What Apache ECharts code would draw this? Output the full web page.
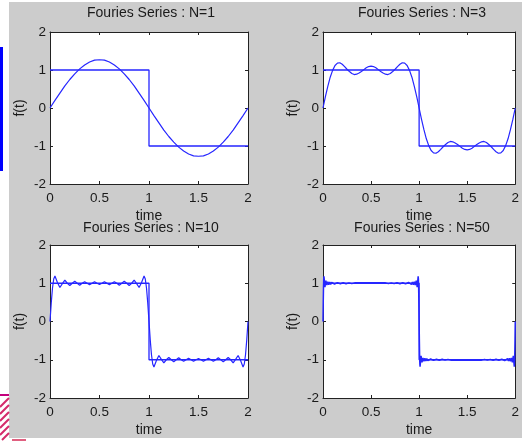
<!DOCTYPE html>
<html>
<head>
<meta charset="utf-8">
<script src="https://cdn.jsdelivr.net/npm/echarts@6/dist/echarts.min.js"></script>
<style>html,body{margin:0;padding:0;background:#fff;}#c{width:522px;height:441px;}</style>
</head>
<body>
<div id="c"></div>
<script>
// ---- data ----
const panelTitles = ['Fouries Series : N=1', 'Fouries Series : N=3', 'Fouries Series : N=10', 'Fouries Series : N=50'];
const xTicks = [0, 0.5, 1, 1.5, 2];
const yTicks = [-2, -1, 0, 1, 2];
const squareWave = [[0, 1], [1, 1], [1, -1], [2, -1]];

const fourierN1 = [[0,0],[0.05,0.20],[0.1,0.39],[0.15,0.58],[0.2,0.75],[0.25,0.90],[0.3,1.03],[0.35,1.13],[0.4,1.21],[0.45,1.26],[0.5,1.27],
[0.55,1.26],[0.6,1.21],[0.65,1.13],[0.7,1.03],[0.75,0.90],[0.8,0.75],[0.85,0.58],[0.9,0.39],[0.95,0.20],[1,0],
[1.05,-0.20],[1.1,-0.39],[1.15,-0.58],[1.2,-0.75],[1.25,-0.90],[1.3,-1.03],[1.35,-1.13],[1.4,-1.21],[1.45,-1.26],[1.5,-1.27],
[1.55,-1.26],[1.6,-1.21],[1.65,-1.13],[1.7,-1.03],[1.75,-0.90],[1.8,-0.75],[1.85,-0.58],[1.9,-0.39],[1.95,-0.20],[2,0]];

const fourierN3 = [[0,0],[0.025,0.30],[0.05,0.57],[0.075,0.81],[0.1,0.99],[0.125,1.12],[0.15,1.18],[0.175,1.19],[0.2,1.15],[0.225,1.09],[0.25,1.02],
[0.275,0.96],[0.3,0.91],[0.325,0.88],[0.35,0.89],[0.375,0.92],[0.4,0.96],[0.425,1.01],[0.45,1.06],[0.475,1.09],[0.5,1.10],
[0.525,1.09],[0.55,1.06],[0.575,1.01],[0.6,0.96],[0.625,0.92],[0.65,0.89],[0.675,0.88],[0.7,0.91],[0.725,0.96],[0.75,1.02],
[0.775,1.09],[0.8,1.15],[0.825,1.19],[0.85,1.18],[0.875,1.12],[0.9,0.99],[0.925,0.81],[0.95,0.57],[0.975,0.30],[1,0],
[1.025,-0.30],[1.05,-0.57],[1.075,-0.81],[1.1,-0.99],[1.125,-1.12],[1.15,-1.18],[1.175,-1.19],[1.2,-1.15],[1.225,-1.09],[1.25,-1.02],
[1.275,-0.96],[1.3,-0.91],[1.325,-0.88],[1.35,-0.89],[1.375,-0.92],[1.4,-0.96],[1.425,-1.01],[1.45,-1.06],[1.475,-1.09],[1.5,-1.10],
[1.525,-1.09],[1.55,-1.06],[1.575,-1.01],[1.6,-0.96],[1.625,-0.92],[1.65,-0.89],[1.675,-0.88],[1.7,-0.91],[1.725,-0.96],[1.75,-1.02],
[1.775,-1.09],[1.8,-1.15],[1.825,-1.19],[1.85,-1.18],[1.875,-1.12],[1.9,-0.99],[1.925,-0.81],[1.95,-0.57],[1.975,-0.30],[2,0]];

const fourierN10 = [[0,0],[0.0125,0.48],[0.025,0.87],[0.0375,1.11],[0.05,1.19],[0.075,1.02],[0.1,0.89],[0.125,0.99],[0.15,1.08],[0.175,1.00],
[0.2,0.94],[0.225,1.00],[0.25,1.05],[0.275,1.00],[0.3,0.95],[0.325,1.00],[0.35,1.04],[0.375,1.00],[0.4,0.96],[0.425,1.00],[0.45,1.04],[0.475,1.00],
[0.5,0.97],[0.525,1.00],[0.55,1.04],[0.575,1.00],[0.6,0.96],[0.625,1.00],[0.65,1.04],[0.675,1.00],[0.7,0.95],[0.725,1.00],[0.75,1.05],[0.775,1.00],
[0.8,0.94],[0.825,1.00],[0.85,1.08],[0.875,0.99],[0.9,0.89],[0.925,1.02],[0.95,1.19],[0.9625,1.11],[0.975,0.87],[0.9875,0.48],[1,0],
[1.0125,-0.48],[1.025,-0.87],[1.0375,-1.11],[1.05,-1.19],[1.075,-1.02],[1.1,-0.89],[1.125,-0.99],[1.15,-1.08],[1.175,-1.00],
[1.2,-0.94],[1.225,-1.00],[1.25,-1.05],[1.275,-1.00],[1.3,-0.95],[1.325,-1.00],[1.35,-1.04],[1.375,-1.00],[1.4,-0.96],[1.425,-1.00],[1.45,-1.04],[1.475,-1.00],
[1.5,-0.97],[1.525,-1.00],[1.55,-1.04],[1.575,-1.00],[1.6,-0.96],[1.625,-1.00],[1.65,-1.04],[1.675,-1.00],[1.7,-0.95],[1.725,-1.00],[1.75,-1.05],[1.775,-1.00],
[1.8,-0.94],[1.825,-1.00],[1.85,-1.08],[1.875,-0.99],[1.9,-0.89],[1.925,-1.02],[1.95,-1.19],[1.9625,-1.11],[1.975,-0.87],[1.9875,-0.48],[2,0]];

const fourierN50 = [[0,0],[0.0025,0.48],[0.005,0.87],[0.0075,1.11],[0.01,1.18],[0.02,0.90],[0.03,1.07],[0.04,0.95],[0.05,1.04],[0.06,0.96],
[0.07,1.03],[0.08,0.97],[0.09,1.024],[0.1,0.978],[0.11,1.021],[0.12,0.981],[0.13,1.018],[0.14,0.983],[0.15,1.016],[0.16,0.985],
[0.17,1.014],[0.18,0.986],[0.19,1.013],[0.2,0.987],[0.21,1.012],[0.22,0.988],[0.23,1.011],[0.24,0.989],[0.25,1.011],[0.26,0.99],
[0.27,1.01],[0.28,0.99],[0.29,1.01],[0.3,0.99],[0.31,1.01],[0.32,0.99],[0.33,1.01],[0.34,0.99],[0.35,1.01],
[0.65,1.01],[0.66,0.99],[0.67,1.01],[0.68,0.99],[0.69,1.01],[0.7,0.99],[0.71,1.01],[0.72,0.99],[0.73,1.01],[0.74,0.99],
[0.75,1.011],[0.76,0.989],[0.77,1.011],[0.78,0.988],[0.79,1.012],[0.8,0.987],[0.81,1.013],[0.82,0.986],[0.83,1.014],[0.84,0.985],
[0.85,1.016],[0.86,0.983],[0.87,1.018],[0.88,0.981],[0.89,1.021],[0.9,0.978],[0.91,1.024],[0.92,0.97],[0.93,1.03],[0.94,0.96],
[0.95,1.04],[0.96,0.95],[0.97,1.07],[0.98,0.90],[0.99,1.18],[0.9925,1.11],[0.995,0.87],[0.9975,0.48],[1,0],
[1.0025,-0.48],[1.005,-0.87],[1.0075,-1.11],[1.01,-1.18],[1.02,-0.90],[1.03,-1.07],[1.04,-0.95],[1.05,-1.04],[1.06,-0.96],
[1.07,-1.03],[1.08,-0.97],[1.09,-1.024],[1.1,-0.978],[1.11,-1.021],[1.12,-0.981],[1.13,-1.018],[1.14,-0.983],[1.15,-1.016],[1.16,-0.985],
[1.17,-1.014],[1.18,-0.986],[1.19,-1.013],[1.2,-0.987],[1.21,-1.012],[1.22,-0.988],[1.23,-1.011],[1.24,-0.989],[1.25,-1.011],[1.26,-0.99],
[1.27,-1.01],[1.28,-0.99],[1.29,-1.01],[1.3,-0.99],[1.31,-1.01],[1.32,-0.99],[1.33,-1.01],[1.34,-0.99],[1.35,-1.01],
[1.65,-1.01],[1.66,-0.99],[1.67,-1.01],[1.68,-0.99],[1.69,-1.01],[1.7,-0.99],[1.71,-1.01],[1.72,-0.99],[1.73,-1.01],[1.74,-0.99],
[1.75,-1.011],[1.76,-0.989],[1.77,-1.011],[1.78,-0.988],[1.79,-1.012],[1.8,-0.987],[1.81,-1.013],[1.82,-0.986],[1.83,-1.014],[1.84,-0.985],
[1.85,-1.016],[1.86,-0.983],[1.87,-1.018],[1.88,-0.981],[1.89,-1.021],[1.9,-0.978],[1.91,-1.024],[1.92,-0.97],[1.93,-1.03],[1.94,-0.96],
[1.95,-1.04],[1.96,-0.95],[1.97,-1.07],[1.98,-0.90],[1.99,-1.18],[1.9925,-1.11],[1.995,-0.87],[1.9975,-0.48],[2,0]];

const seriesPerPanel = [fourierN1, fourierN3, fourierN10, fourierN50];

// ---- layout / styles ----
const FONT = '"Liberation Sans", Arial, sans-serif';
const BG = '#cccccc';
const LINE = '#2626ff';
const AX = '#222222';
const grids = [
  {left: 50, top: 32, width: 198, height: 152},
  {left: 323, top: 32, width: 196, height: 152},
  {left: 50, top: 245, width: 198, height: 153},
  {left: 323, top: 245, width: 196, height: 153}
];
const titlePos = [
  {left: 148, top: 6}, {left: 419, top: 6}, {left: 148, top: 221}, {left: 419, top: 221}
];

const xAxes = [], yAxes = [], series = [], titles = [];
grids.forEach((g, i) => {
  const common = {
    gridIndex: i, type: 'value', min: 0, max: 2, interval: 0.5,
    axisLine: {show: true, onZero: false, lineStyle: {color: AX, width: 1}},
    axisTick: {show: true, inside: true, length: 3, lineStyle: {color: AX}},
    splitLine: {show: false}
  };
  xAxes.push(Object.assign({}, common, {
    position: 'bottom', name: 'time', nameLocation: 'middle', nameGap: 25,
    nameTextStyle: {fontFamily: FONT, fontSize: 14, color: '#1a1a1a'},
    axisLabel: {show: true, margin: 7, fontFamily: FONT, fontSize: 13.5, color: '#1a1a1a',
      formatter: v => (xTicks.indexOf(v) >= 0 ? String(v) : '')}
  }));
  xAxes.push(Object.assign({}, common, {position: 'top', axisLabel: {show: false}}));
  const ycommon = {
    gridIndex: i, type: 'value', min: -2, max: 2, interval: 1,
    axisLine: {show: true, onZero: false, lineStyle: {color: AX, width: 1}},
    axisTick: {show: true, inside: true, length: 3, lineStyle: {color: AX}},
    splitLine: {show: false}
  };
  yAxes.push(Object.assign({}, ycommon, {
    position: 'left', name: 'f(t)', nameLocation: 'middle', nameGap: 23,
    nameTextStyle: {fontFamily: FONT, fontSize: 14, color: '#1a1a1a'},
    axisLabel: {show: true, margin: 4, fontFamily: FONT, fontSize: 13.5, color: '#1a1a1a',
      formatter: v => (yTicks.indexOf(v) >= 0 ? String(v) : '')}
  }));
  yAxes.push(Object.assign({}, ycommon, {position: 'right', axisLabel: {show: false}}));

  series.push({
    type: 'line', xAxisIndex: 2 * i, yAxisIndex: 2 * i, data: squareWave,
    showSymbol: false, symbol: 'none', lineStyle: {color: LINE, width: 1.3}, silent: true
  });
  series.push({
    type: 'line', xAxisIndex: 2 * i, yAxisIndex: 2 * i, data: seriesPerPanel[i],
    showSymbol: false, symbol: 'none', lineStyle: {color: LINE, width: i === 3 ? 1.5 : 1.2}, silent: true
  });
  titles.push({
    text: panelTitles[i], left: titlePos[i].left, top: titlePos[i].top, textAlign: 'center',
    padding: [0, 3], backgroundColor: i >= 2 ? BG : 'transparent', z: 20,
    textStyle: {fontFamily: FONT, fontSize: 14, fontWeight: 'normal', color: '#1a1a1a'}
  });
});

const chart = echarts.init(document.getElementById('c'), null, {renderer: 'canvas'});
chart.setOption({
  backgroundColor: BG,
  animation: false,
  title: titles,
  grid: grids.map(g => Object.assign({show: true, backgroundColor: '#ffffff', borderWidth: 0, containLabel: false}, g)),
  xAxis: xAxes,
  yAxis: yAxes,
  series: series,
  graphic: [
    {type: 'rect', shape: {x: 0, y: 0, width: 522, height: 2}, style: {fill: '#ffffff'}, z: 100},
    {type: 'rect', shape: {x: 0, y: 0, width: 9, height: 441}, style: {fill: '#ffffff'}, z: 100},
    {type: 'rect', shape: {x: 0, y: 438, width: 522, height: 3}, style: {fill: '#ffffff'}, z: 100},
    {type: 'rect', shape: {x: 0, y: 47, width: 3, height: 124}, style: {fill: '#0000ff'}, z: 101},
    {type: 'rect', shape: {x: 0, y: 394, width: 9, height: 2}, style: {fill: '#c4007c'}, z: 101},
    {type: 'line', shape: {x1: 0, y1: 407, x2: 9, y2: 398}, style: {stroke: '#d42a6a', lineWidth: 2}, z: 101},
    {type: 'line', shape: {x1: 0, y1: 414, x2: 9, y2: 405}, style: {stroke: '#d42a6a', lineWidth: 2}, z: 101},
    {type: 'line', shape: {x1: 0, y1: 421, x2: 9, y2: 412}, style: {stroke: '#d42a6a', lineWidth: 2}, z: 101},
    {type: 'line', shape: {x1: 0, y1: 428, x2: 9, y2: 419}, style: {stroke: '#d42a6a', lineWidth: 2}, z: 101},
    {type: 'line', shape: {x1: 0, y1: 435, x2: 9, y2: 426}, style: {stroke: '#d42a6a', lineWidth: 2}, z: 101},
    {type: 'line', shape: {x1: 2, y1: 440, x2: 9, y2: 433}, style: {stroke: '#d42a6a', lineWidth: 2}, z: 101},
    {type: 'rect', shape: {x: 12, y: 439, width: 14, height: 2}, style: {fill: '#e06080'}, z: 101}
  ]
});
</script>
</body>
</html>
